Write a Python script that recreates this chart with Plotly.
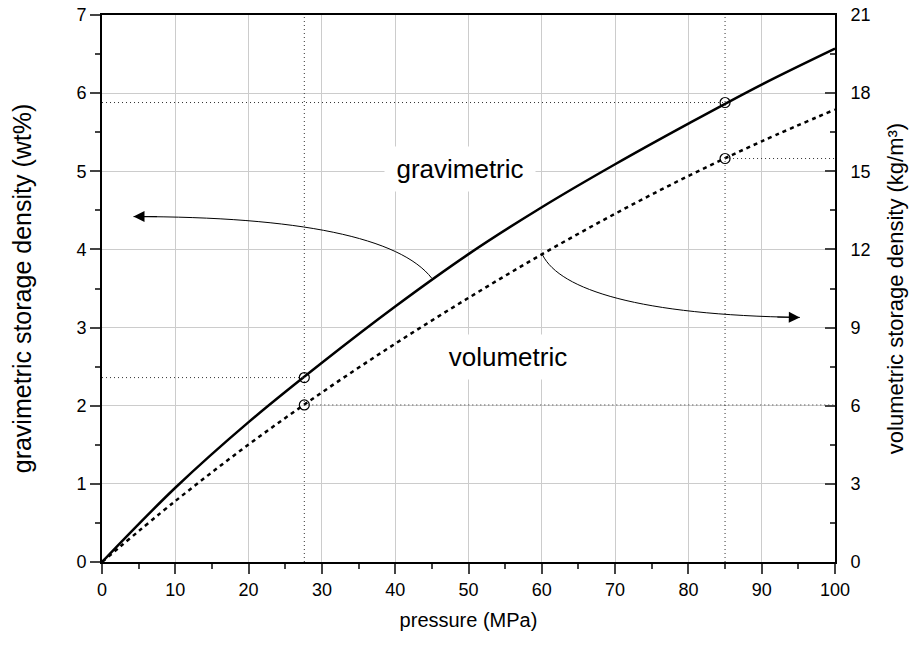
import plotly.graph_objects as go

# ---------------- data ----------------
pressure = [0, 10, 20, 30, 40, 50, 60, 70, 80, 90, 100]
gravimetric_wt = [0, 0.95, 1.79, 2.55, 3.27, 3.94, 4.54, 5.09, 5.61, 6.11, 6.57]
volumetric_kg = [0, 2.34, 4.51, 6.51, 8.38, 10.14, 11.81, 13.37, 14.82, 16.15, 17.37]

marker_p = [27.6, 85]
marker_grav = [2.36, 5.88]
marker_vol = [6.03, 15.49]

x_ticks = [0, 10, 20, 30, 40, 50, 60, 70, 80, 90, 100]
y_ticks = [0, 1, 2, 3, 4, 5, 6, 7]
y2_ticks = [0, 3, 6, 9, 12, 15, 18, 21]

label_grav = ("gravimetric", 48.9, 5.03)
label_vol = ("volumetric", 55.4, 2.62)

# arrow curves (start on curve, two control points, tip) in pressure / wt% units
arrow_left = [(45.0, 3.63), (40.7, 4.15), (27.0, 4.42), (4.3, 4.42)]
arrow_right = [(60.1, 3.93), (62.5, 3.48), (73.4, 3.16), (95.2, 3.13)]

SANS = "Liberation Sans, Arial, sans-serif"

fig = go.Figure()

fig.add_trace(go.Scatter(x=pressure, y=gravimetric_wt, mode="lines",
                         line=dict(color="black", width=2.5, shape="spline"),
                         showlegend=False, hoverinfo="skip"))
fig.add_trace(go.Scatter(x=pressure, y=volumetric_kg, mode="lines", yaxis="y2",
                         line=dict(color="black", width=2.5, dash="4px,4px", shape="spline"),
                         showlegend=False, hoverinfo="skip"))
fig.add_trace(go.Scatter(x=marker_p, y=marker_grav, mode="markers",
                         marker=dict(symbol="circle-open", size=10, color="black", line=dict(width=1.2)),
                         showlegend=False, hoverinfo="skip"))
fig.add_trace(go.Scatter(x=marker_p, y=marker_vol, mode="markers", yaxis="y2",
                         marker=dict(symbol="circle-open", size=10, color="black", line=dict(width=1.2)),
                         showlegend=False, hoverinfo="skip"))

shapes = []
guide = dict(color="#333333", width=1, dash="1px,3px")
for p, g, v in zip(marker_p, marker_grav, marker_vol):
    shapes.append(dict(type="line", xref="x", yref="paper", x0=p, x1=p, y0=0, y1=1,
                       line=guide, layer="above"))
    shapes.append(dict(type="line", xref="x", yref="y", x0=0, x1=p, y0=g, y1=g,
                       line=guide, layer="above"))
    shapes.append(dict(type="line", xref="x", yref="y2", x0=p, x1=100, y0=v, y1=v,
                       line=guide, layer="above"))

for pts in (arrow_left, arrow_right):
    (x0, y0), (x1, y1), (x2, y2), (x3, y3) = pts
    shapes.append(dict(type="path", xref="x", yref="y",
                       path=f"M {x0},{y0} C {x1},{y1} {x2},{y2} {x3},{y3}",
                       line=dict(color="black", width=1), layer="above"))

annotations = []
for pts in (arrow_left, arrow_right):
    (x2, y2), (x3, y3) = pts[2], pts[3]
    tx = x3 + (x2 - x3) * 0.15
    ty = y3 + (y2 - y3) * 0.15
    annotations.append(dict(x=x3, y=y3, ax=tx, ay=ty, xref="x", yref="y", axref="x", ayref="y",
                            text="", showarrow=True, arrowhead=2, arrowsize=2.2,
                            arrowwidth=1, arrowcolor="black"))
for txt, x, y in (label_grav, label_vol):
    annotations.append(dict(x=x, y=y, xref="x", yref="y", text=txt, showarrow=False,
                            font=dict(family=SANS, size=26, color="black"),
                            bgcolor="white", borderpad=0, width=150, height=44))

tick_font = dict(family=SANS, size=18, color="black")

fig.update_layout(
    width=909, height=645,
    margin=dict(l=102, r=74, t=15, b=83, autoexpand=False),
    plot_bgcolor="white", paper_bgcolor="white",
    shapes=shapes, annotations=annotations,
    xaxis=dict(range=[0, 100], tickvals=x_ticks, ticks="outside", ticklen=10, tickwidth=2,
               showline=True, linecolor="black", linewidth=2, mirror=True, zeroline=False,
               showgrid=True, gridcolor="#cccccc", gridwidth=1, automargin=False,
               minor=dict(ticks="outside", ticklen=5, tickwidth=2, dtick=5, tick0=0, showgrid=False),
               tickfont=tick_font,
               title=dict(text="pressure (MPa)", standoff=14,
                          font=dict(family=SANS, size=20, color="black"))),
    yaxis=dict(range=[0, 7], tickvals=y_ticks, ticks="outside", ticklen=10, tickwidth=2,
               showline=True, linecolor="black", linewidth=2, zeroline=False,
               showgrid=True, gridcolor="#cccccc", gridwidth=1, automargin=False,
               minor=dict(ticks="outside", ticklen=5, tickwidth=2, dtick=0.5, tick0=0, showgrid=False),
               tickfont=tick_font,
               title=dict(text="gravimetric storage density (wt%)", standoff=38,
                          font=dict(family=SANS, size=25, color="black"))),
    yaxis2=dict(range=[0, 21], tickvals=y2_ticks, overlaying="y", side="right",
                ticks="inside", ticklen=10, tickwidth=2, ticklabelstandoff=10,
                showline=True, linecolor="black", linewidth=2, zeroline=False, showgrid=False,
                automargin=False,
                minor=dict(ticks="inside", ticklen=5, tickwidth=2, dtick=1.5, tick0=0, showgrid=False),
                tickfont=tick_font,
                title=dict(text="volumetric storage density (kg/m³)", standoff=18,
                           font=dict(family=SANS, size=22, color="black"))),
)

fig.write_html("out.html")
